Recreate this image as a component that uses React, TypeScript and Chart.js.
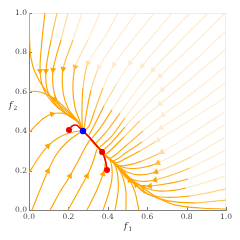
import { useEffect, useRef } from 'react';
import { Chart, registerables } from 'chart.js';

Chart.register(...registerables);

type P = [number, number];

const xTicks = [0, 0.2, 0.4, 0.6, 0.8, 1.0];
const yTicks = [0, 0.2, 0.4, 0.6, 0.8, 1.0];

// streamlines entering from the top edge
const topLines: P[][] = [
  [[0.002, 1.0], [0.003, 0.863], [0.01, 0.772], [0.03, 0.701], [0.076, 0.619], [0.142, 0.543], [0.208, 0.487], [0.239, 0.459], [0.262, 0.425]],
  [[0.081, 1.0], [0.066, 0.863], [0.056, 0.706], [0.076, 0.609], [0.132, 0.533], [0.193, 0.487], [0.244, 0.452], [0.265, 0.42]],
  [[0.142, 1.0], [0.112, 0.863], [0.086, 0.706], [0.096, 0.599], [0.147, 0.523], [0.203, 0.477], [0.249, 0.447], [0.268, 0.415]],
  [[0.198, 1.0], [0.162, 0.863], [0.122, 0.711], [0.127, 0.599], [0.162, 0.518], [0.213, 0.472], [0.254, 0.442], [0.27, 0.412]],
  [[0.269, 1.0], [0.223, 0.863], [0.173, 0.716], [0.173, 0.599], [0.198, 0.518], [0.234, 0.467], [0.259, 0.437], [0.271, 0.41]],
  [[0.36, 1.0], [0.299, 0.863], [0.234, 0.726], [0.223, 0.609], [0.234, 0.518], [0.254, 0.462], [0.264, 0.431], [0.272, 0.408]],
  [[0.452, 1.0], [0.381, 0.873], [0.299, 0.746], [0.274, 0.619], [0.269, 0.518], [0.269, 0.457], [0.272, 0.41]],
  [[0.543, 1.0], [0.452, 0.873], [0.355, 0.726], [0.315, 0.609], [0.294, 0.508], [0.279, 0.411]],
  [[0.635, 1.0], [0.533, 0.873], [0.431, 0.736], [0.376, 0.619], [0.335, 0.508], [0.305, 0.426], [0.282, 0.402]],
  [[0.726, 1.0], [0.619, 0.873], [0.513, 0.746], [0.442, 0.635], [0.381, 0.528], [0.335, 0.437], [0.305, 0.381]],
  [[0.817, 1.0], [0.695, 0.873], [0.574, 0.731], [0.492, 0.619], [0.421, 0.508], [0.365, 0.421], [0.32, 0.365]],
  [[0.909, 1.0], [0.772, 0.863], [0.629, 0.711], [0.543, 0.604], [0.462, 0.492], [0.396, 0.401], [0.34, 0.34]],
  [[0.995, 1.0], [0.832, 0.838], [0.665, 0.68], [0.574, 0.579], [0.487, 0.467], [0.421, 0.376], [0.36, 0.32]],
];
const topArrows = [-1, 2, 2, 2, 2, 2, 2, 2, 2, 2, 2, 2, 2];

// streamlines entering from the right edge
const rightLines: P[][] = [
  [[1.0, 0.909], [0.843, 0.761], [0.675, 0.609], [0.574, 0.513], [0.487, 0.421], [0.421, 0.345], [0.371, 0.305], [0.33, 0.345]],
  [[1.0, 0.817], [0.832, 0.675], [0.665, 0.538], [0.563, 0.452], [0.482, 0.371], [0.421, 0.31], [0.386, 0.284], [0.35, 0.318]],
  [[1.0, 0.731], [0.843, 0.604], [0.68, 0.482], [0.579, 0.401], [0.497, 0.33], [0.437, 0.279], [0.406, 0.262], [0.37, 0.295]],
  [[1.0, 0.65], [0.838, 0.528], [0.67, 0.416], [0.574, 0.345], [0.497, 0.294], [0.452, 0.262], [0.421, 0.248], [0.39, 0.272]],
  [[1.0, 0.574], [0.827, 0.462], [0.655, 0.355], [0.563, 0.299], [0.492, 0.262], [0.445, 0.24], [0.41, 0.258], [0.36, 0.305], [0.31, 0.36]],
  [[1.0, 0.503], [0.838, 0.396], [0.675, 0.294], [0.574, 0.249], [0.503, 0.228], [0.455, 0.226], [0.42, 0.25], [0.38, 0.287]],
  [[1.0, 0.437], [0.827, 0.33], [0.655, 0.239], [0.563, 0.213], [0.503, 0.212], [0.46, 0.222], [0.425, 0.246], [0.385, 0.283], [0.335, 0.338], [0.29, 0.388]],
  [[1.0, 0.371], [0.822, 0.269], [0.645, 0.193], [0.558, 0.178], [0.503, 0.19], [0.462, 0.215], [0.43, 0.24], [0.395, 0.272]],
  [[1.0, 0.305], [0.817, 0.213], [0.64, 0.152], [0.553, 0.147], [0.497, 0.17], [0.462, 0.205], [0.432, 0.236], [0.4, 0.265], [0.35, 0.318]],
  [[1.0, 0.239], [0.807, 0.157], [0.614, 0.122], [0.543, 0.132], [0.492, 0.165], [0.462, 0.2], [0.44, 0.228]],
  [[1.0, 0.173], [0.797, 0.112], [0.665, 0.096], [0.579, 0.117], [0.513, 0.152], [0.47, 0.195], [0.44, 0.232], [0.4, 0.268]],
  [[1.0, 0.107], [0.817, 0.071], [0.665, 0.066], [0.589, 0.086], [0.543, 0.127], [0.503, 0.162], [0.472, 0.193], [0.445, 0.228]],
  [[1.0, 0.051], [0.843, 0.036], [0.706, 0.046], [0.614, 0.076], [0.548, 0.122], [0.495, 0.17], [0.46, 0.215]],
  [[1.0, 0.005], [0.868, 0.01], [0.746, 0.025], [0.655, 0.061], [0.579, 0.112], [0.515, 0.16], [0.47, 0.21]],
];
const rightArrows = [2, 2, 2, 2, 2, 2, 2, 2, 2, 2, 3, 4, -1, -1];

// streamlines entering from the bottom edge
const bottomLines: P[][] = [
  [[0.015, 0.0], [0.056, 0.102], [0.096, 0.198], [0.137, 0.279], [0.188, 0.34], [0.239, 0.381], [0.272, 0.398]],
  [[0.107, 0.0], [0.157, 0.091], [0.208, 0.173], [0.249, 0.249], [0.284, 0.315], [0.31, 0.358]],
  [[0.198, 0.0], [0.249, 0.091], [0.294, 0.173], [0.325, 0.244], [0.345, 0.31]],
  [[0.294, 0.0], [0.34, 0.091], [0.376, 0.183], [0.388, 0.244], [0.384, 0.282]],
  [[0.376, 0.0], [0.406, 0.091], [0.421, 0.162], [0.42, 0.222], [0.41, 0.258]],
  [[0.437, 0.0], [0.452, 0.091], [0.452, 0.162], [0.442, 0.213], [0.428, 0.242]],
  [[0.492, 0.0], [0.492, 0.091], [0.478, 0.162], [0.455, 0.215]],
  [[0.558, 0.0], [0.538, 0.091], [0.51, 0.152], [0.468, 0.205]],
];
const bottomArrows = [2, 2, 2, 2, -1, -1, -1, 2];

// streamlines entering from the left edge
const leftLines: P[][] = [
  [[0.0, 0.604], [0.056, 0.599], [0.096, 0.584], [0.132, 0.563], [0.173, 0.528], [0.213, 0.487], [0.245, 0.455], [0.266, 0.418]],
  [[0.0, 0.391], [0.036, 0.431], [0.076, 0.467], [0.117, 0.487], [0.168, 0.492], [0.213, 0.477], [0.25, 0.445], [0.268, 0.414]],
  [[0.0, 0.188], [0.041, 0.254], [0.096, 0.325], [0.147, 0.365], [0.203, 0.391], [0.259, 0.401]],
];
const leftArrows = [3, 3, 2];

// trajectories (red) and fixed point (blue)
const redPathA: P[] = [[0.203, 0.406], [0.218, 0.426], [0.239, 0.431], [0.259, 0.416], [0.274, 0.401]];
const redPathB: P[] = [[0.396, 0.203], [0.388, 0.25], [0.371, 0.294], [0.34, 0.33], [0.31, 0.365], [0.274, 0.401]];
const redStarts: P[] = [[0.203, 0.406], [0.371, 0.294], [0.396, 0.203]];
const fixedPoint: P[] = [[0.274, 0.401]];

const ORANGE = [255, 165, 0];
const PALE = [255, 235, 203];
function tone(x: number, y: number): string {
  const d = Math.max(0, x + y - 0.67);
  const v = d * Math.sqrt(Math.max(x, 0)) * Math.pow(Math.max(y, 0.001), 0.25);
  const t = Math.min(1, Math.max(0, (v - 0.09) / 0.12));
  const c = ORANGE.map((o, i) => Math.round(o + (PALE[i] - o) * t));
  return `rgb(${c[0]},${c[1]},${c[2]})`;
}

const toXY = (pts: P[]) => pts.map(([x, y]) => ({ x, y }));

function buildDatasets() {
  const lines = [...topLines, ...rightLines, ...bottomLines, ...leftLines];
  const arrows = [...topArrows, ...rightArrows, ...bottomArrows, ...leftArrows];
  const sets: any[] = lines.map((pts) => ({
    type: 'scatter',
    data: toXY(pts),
    showLine: true,
    pointRadius: 0,
    borderWidth: 1.15,
    tension: 0.3,
    order: 5,
    borderColor: tone(pts[0][0], pts[0][1]),
    segment: {
      borderColor: (c: any) =>
        tone((c.p0.parsed.x + c.p1.parsed.x) / 2, (c.p0.parsed.y + c.p1.parsed.y) / 2),
    },
  }));
  const aPts: { x: number; y: number }[] = [];
  const aRot: number[] = [];
  const aCol: string[] = [];
  lines.forEach((pts, i) => {
    const a = arrows[i];
    if (a < 1 || a >= pts.length - 1) return;
    const [x0, y0] = pts[a - 1];
    const [x1, y1] = pts[a + 1];
    aPts.push({ x: pts[a][0], y: pts[a][1] });
    aRot.push((Math.atan2(x1 - x0, y1 - y0) * 180) / Math.PI);
    aCol.push(tone(pts[a][0], pts[a][1]));
  });
  sets.push({
    type: 'scatter',
    data: aPts,
    pointStyle: 'triangle',
    pointRadius: 3.6,
    pointRotation: aRot,
    pointBackgroundColor: aCol,
    pointBorderWidth: 0,
    order: 4,
  });
  [redPathA, redPathB].forEach((p) =>
    sets.push({
      type: 'scatter',
      data: toXY(p),
      showLine: true,
      pointRadius: 0,
      borderColor: '#ee0000',
      borderWidth: 1.6,
      tension: 0.4,
      order: 3,
    })
  );
  sets.push({
    type: 'scatter',
    data: toXY(redStarts),
    pointRadius: 3,
    pointBackgroundColor: '#ee0000',
    pointBorderWidth: 0,
    order: 2,
  });
  sets.push({
    type: 'scatter',
    data: toXY(fixedPoint),
    pointRadius: 3.2,
    pointBackgroundColor: '#0000ff',
    pointBorderWidth: 0,
    order: 1,
  });
  return sets;
}

const decor = {
  id: 'decor',
  beforeDatasetsDraw(chart: any) {
    const { ctx, chartArea: a, scales } = chart;
    ctx.save();
    ctx.strokeStyle = '#ececec';
    ctx.lineWidth = 1;
    ctx.beginPath();
    ctx.moveTo(a.left, a.top + 0.5);
    ctx.lineTo(a.right, a.top + 0.5);
    ctx.moveTo(a.right - 0.5, a.top);
    ctx.lineTo(a.right - 0.5, a.bottom);
    ctx.stroke();
    ctx.strokeStyle = '#777';
    ctx.beginPath();
    xTicks.forEach((v) => {
      const px = Math.round(scales.x.getPixelForValue(v)) + 0.5;
      ctx.moveTo(px, a.bottom);
      ctx.lineTo(px, a.bottom - 3);
    });
    yTicks.forEach((v) => {
      const py = Math.round(scales.y.getPixelForValue(v)) + 0.5;
      ctx.moveTo(a.left, py);
      ctx.lineTo(a.left + 3, py);
    });
    ctx.stroke();
    ctx.restore();
  },
  afterDraw(chart: any) {
    const { ctx } = chart;
    ctx.save();
    ctx.fillStyle = '#333';
    ctx.textBaseline = 'alphabetic';
    ctx.font = 'italic 9px "DejaVu Serif"';
    ctx.fillText('f', 124, 229);
    ctx.fillText('f', 9, 108);
    ctx.font = '6px "DejaVu Serif"';
    ctx.fillText('1', 128.5, 231);
    ctx.fillText('2', 13.5, 110);
    ctx.restore();
  },
};

export default function App() {
  const ref = useRef<HTMLCanvasElement>(null);
  useEffect(() => {
    const chart = new Chart(ref.current!, {
      type: 'scatter',
      data: { datasets: buildDatasets() },
      options: {
        animation: false,
        responsive: false,
        events: [],
        layout: { padding: { left: 0, top: 13, right: 14, bottom: 0 } },
        plugins: { legend: { display: false }, tooltip: { enabled: false } },
        scales: {
          x: {
            type: 'linear',
            min: 0,
            max: 1,
            afterFit: (s: any) => {
              s.height = 30;
            },
            afterBuildTicks: (s: any) => {
              s.ticks = xTicks.map((v) => ({ value: v }));
            },
            ticks: {
              callback: (v: any) => Number(v).toFixed(1),
              font: { family: 'DejaVu Serif', size: 7.5 },
              color: '#444',
              padding: 3,
              maxRotation: 0,
            },
            grid: { drawOnChartArea: false, drawTicks: false },
            border: { display: true, color: '#808080', width: 1 },
          },
          y: {
            type: 'linear',
            min: 0,
            max: 1,
            afterFit: (s: any) => {
              s.width = 29;
            },
            afterBuildTicks: (s: any) => {
              s.ticks = yTicks.map((v) => ({ value: v }));
            },
            ticks: {
              callback: (v: any) => Number(v).toFixed(1),
              font: { family: 'DejaVu Serif', size: 7.5 },
              color: '#444',
              padding: 2,
            },
            grid: { drawOnChartArea: false, drawTicks: false },
            border: { display: true, color: '#808080', width: 1 },
          },
        },
      },
      plugins: [decor],
    } as any);
    return () => chart.destroy();
  }, []);
  return (
    <div style={{ position: 'fixed', left: 0, top: 0, width: 240, height: 240, background: '#fff' }}>
      <canvas ref={ref} width={240} height={240} style={{ display: 'block' }} />
    </div>
  );
}
